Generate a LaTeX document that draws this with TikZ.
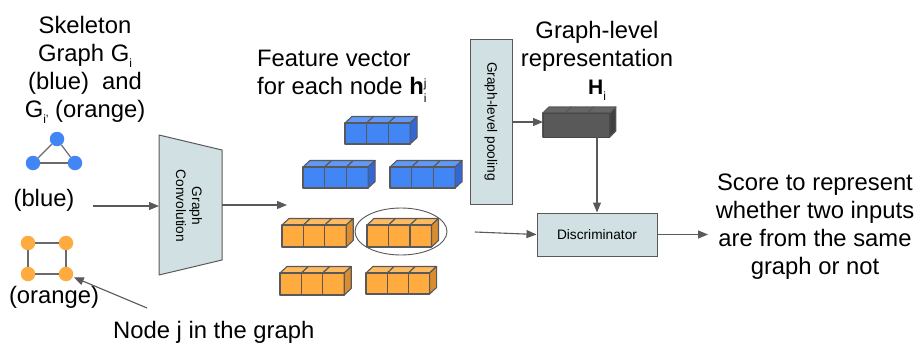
\documentclass[tikz,border=0pt]{standalone}
\usepackage{fontspec}
\setmainfont{Liberation Sans}
\usetikzlibrary{arrows.meta,shapes.geometric}
\definecolor{edgec}{HTML}{595959}
\definecolor{boxfill}{HTML}{D0E0E3}
\definecolor{bfront}{HTML}{4285F4}
\definecolor{btop}{HTML}{5F98F5}
\definecolor{bside}{HTML}{3367D6}
\definecolor{ofront}{HTML}{FFAB40}
\definecolor{otop}{HTML}{FFBA60}
\definecolor{oside}{HTML}{D98C30}
\definecolor{dfront}{HTML}{595959}
\definecolor{dtop}{HTML}{666666}
\definecolor{dside}{HTML}{404040}
\definecolor{gnodeb}{HTML}{4285F4}
\definecolor{gnodeo}{HTML}{FFAB40}
\newcommand{\bigf}{\fontsize{23.8}{28}\selectfont}
\newcommand{\smf}{\fontsize{13.7}{16}\selectfont}
\newcommand{\lowi}[1]{\raisebox{-6pt}{\fontsize{12}{12}\selectfont #1}}
\newcommand{\hjsup}{\rlap{\raisebox{7pt}{\fontsize{12}{12}\selectfont j}}\raisebox{-8pt}{\fontsize{12}{12}\selectfont i}}
\newcommand{\mlc}[1]{\begin{tabular}[t]{@{}c@{}}#1\end{tabular}}
\newcommand{\mll}[1]{\begin{tabular}[t]{@{}l@{}}#1\end{tabular}}
% cube block: x, y (top-left of front), cube width, height, front, top, side, dx, dy
\newcommand{\cubeblk}[9]{%
  \foreach \k in {0,1,2}{%
    \filldraw[fill=#6,draw=edgec,line width=1.1pt,line join=round] ({#1+\k*#3},#2) -- ++(#8,-#9) -- ++(#3,0) -- ++(-#8,#9) -- cycle;
    \filldraw[fill=#5,draw=edgec,line width=1.1pt,line join=round] ({#1+\k*#3},#2) rectangle ++(#3,#4);
  }
  \filldraw[fill=#7,draw=edgec,line width=1.1pt,line join=round] ({#1+3*#3},#2) -- ++(#8,-#9) -- ++(0,#4) -- ++(-#8,#9) -- cycle;
}
\begin{document}
\begin{tikzpicture}[x=1pt,y=-1pt,
  arr/.style={draw=edgec,line width=1.1pt,-{Triangle[length=10pt,width=8pt]}},
  gedge/.style={draw=edgec!90,line width=1.2pt},
  gnode/.style={circle,inner sep=0pt,minimum size=14.5pt},
  bigtext/.style={font=\bigf,inner sep=0pt},
  lbox/.style={draw=edgec,fill=boxfill,line width=1pt,font=\smf,inner sep=0pt}]
\useasboundingbox (0,0) rectangle (919,343);
\fill[white] (0,0) rectangle (919,343);

% left texts
\node[bigtext,anchor=base] (skel) at (85,33) {\mlc{Skeleton\\Graph G\lowi{i}\\(blue)\ \ and\\G\lowi{i'} (orange)}};
\node[bigtext,anchor=base] (bluelab) at (44,206) {(blue)};
\node[bigtext,anchor=base] (orlab) at (54,303) {(orange)};
\node[bigtext,anchor=base west] (nodej) at (113,338) {Node j in the graph};

% blue graph
\node[gnode,fill=gnodeb] (b1) at (57,139) {};
\node[gnode,fill=gnodeb] (b2) at (33,163) {};
\node[gnode,fill=gnodeb] (b3) at (75,163) {};
\draw[gedge] (b1) -- (b2);
\draw[gedge] (b1) -- (b3);
\draw[gedge] (b2) -- (b3);

% orange graph
\node[gnode,fill=gnodeo] (o1) at (28,243) {};
\node[gnode,fill=gnodeo] (o2) at (66,243) {};
\node[gnode,fill=gnodeo] (o3) at (28,274) {};
\node[gnode,fill=gnodeo] (o4) at (66,274) {};
\draw[gedge] (o1) -- (o2);
\draw[gedge] (o2) -- (o4);
\draw[gedge] (o4) -- (o3);
\draw[gedge] (o3) -- (o1);

% graph convolution trapezoid
\coordinate (tl) at (159,135);
\coordinate (tr) at (222,150);
\coordinate (br) at (222,260);
\coordinate (bl) at (159,275);
\filldraw[fill=boxfill,draw=edgec,line width=1pt,line join=round] (tl) -- (tr) -- (br) -- (bl) -- cycle;
\node[font=\smf,rotate=-90,align=center,inner sep=0pt] (conv) at (189,206) {Graph\\Convolution};
\coordinate (convin) at (159,206);
\coordinate (convout) at (222,205);
\coordinate (bluestart) at (93,206);
\coordinate (featin) at (287,205);
\draw[arr] (bluestart) -- (convin);
\draw[arr] (convout) -- (featin);

% node j arrow
\coordinate (jstart) at (147,308);
\draw[arr,shorten >=1pt] (jstart) -- (o4);

% feature text
\node[bigtext,anchor=base west] (feat) at (257,66) {\mll{Feature vector\\for each node \textbf{h}\hjsup}};

% cubes
\cubeblk{345}{123}{21.7}{21}{bfront}{btop}{bside}{7}{6.5}
\cubeblk{303}{167}{21.7}{21}{bfront}{btop}{bside}{7}{6.5}
\cubeblk{390}{167}{21.7}{21}{bfront}{btop}{bside}{7}{6.5}
\cubeblk{282}{225}{21.4}{22}{ofront}{otop}{oside}{7}{6.5}
\cubeblk{367}{225}{21.5}{22}{ofront}{otop}{oside}{7}{6.5}
\cubeblk{280}{273}{21.4}{22}{ofront}{otop}{oside}{7}{6.5}
\cubeblk{366}{273}{21.2}{21}{ofront}{otop}{oside}{7}{6.5}
\node[draw=edgec,ellipse,line width=0.9pt,minimum width=92pt,minimum height=47pt,inner sep=0pt] (sel) at (401,231.5) {};

% pooling
\node[lbox,rotate=-90,minimum width=165pt,minimum height=42pt] (pool) at (491,121.5) {Graph-level pooling};
\coordinate (poolout) at (512,122);
\coordinate (hin) at (543,122);
\draw[arr] (poolout) -- (hin);

% graph-level representation
\node[bigtext,anchor=base] (grep) at (597,38) {\mlc{Graph-level\\representation\\\fontsize{21}{28}\selectfont\textbf{H}\lowi{i}}};
\cubeblk{543}{113}{22.3}{24}{dfront}{dtop}{dside}{6}{6}
\draw[draw=dfront,line width=1.2pt] (565.3,113.6) -- (565.3,136.4) (587.6,113.6) -- (587.6,136.4);
\draw[draw=edgec!80!black,line width=1pt] (543,113) rectangle (609.9,137);

% discriminator
\node[lbox,minimum width=120pt,minimum height=43pt] (disc) at (597,234.5) {Discriminator};
\coordinate (hout) at (597,137);
\draw[arr] (hout) -- (disc.north);
\coordinate (din) at (475,232);
\draw[arr] (din) -- (disc.west);
\coordinate (dout) at (708,234.5);
\draw[arr] (disc.east) -- (dout);

% score text
\node[bigtext,anchor=base] (score) at (815,190) {\mlc{Score to represent\\whether two inputs\\are from the same\\graph or not}};
\end{tikzpicture}
\end{document}
